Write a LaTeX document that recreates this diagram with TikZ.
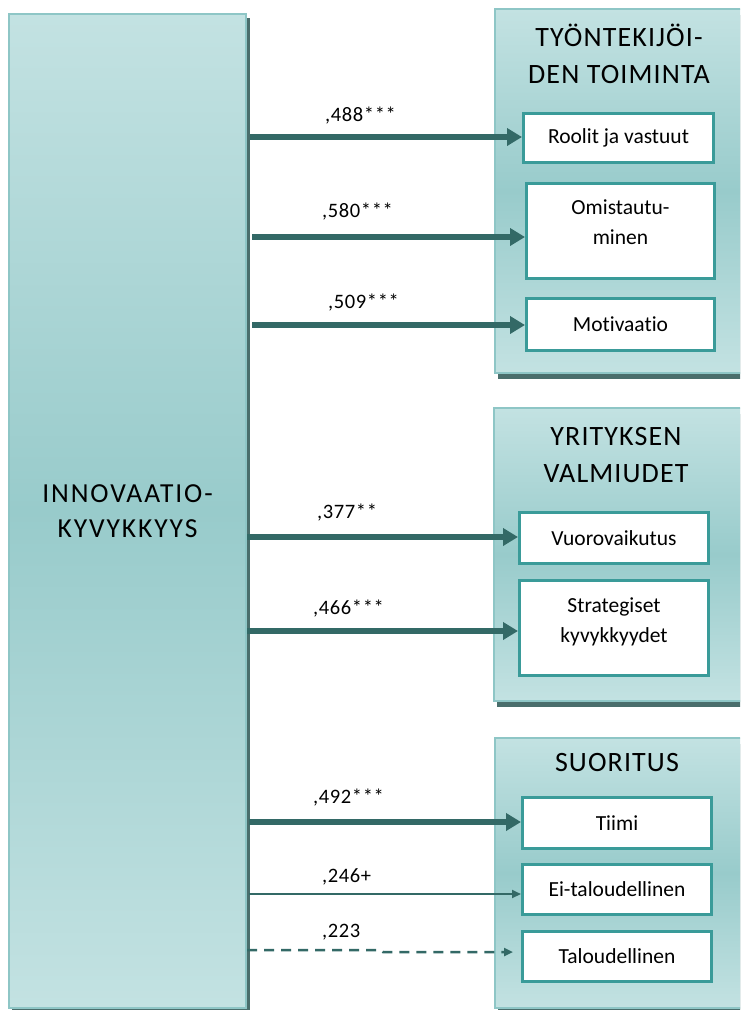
\documentclass[tikz,border=0pt]{standalone}
\usepackage{fontspec}
\setmainfont{Carlito}[Ligatures=NoCommon]
\newfontfamily\spacedfont{Carlito}[LetterSpace=4,Ligatures=NoCommon]
\newfontfamily\widefont{Carlito}[LetterSpace=7,Ligatures=NoCommon]
\newfontfamily\coeffont{Carlito}[LetterSpace=3,Ligatures=NoCommon]
\usetikzlibrary{arrows.meta,shadows}

\definecolor{gradlight}{HTML}{C3E2E2}
\definecolor{graddark}{HTML}{98CBCB}
\definecolor{paneledge}{HTML}{8EC6C6}
\definecolor{shadowc}{HTML}{4A6E6C}
\definecolor{itemedge}{HTML}{3A9B99}
\definecolor{arrc}{HTML}{336966}

\tikzset{
  panel/.style={draw=paneledge, line width=2pt,
    top color=gradlight, bottom color=gradlight, middle color=graddark,
    anchor=north west, inner sep=0pt,
    drop shadow={shadow xshift=3pt, shadow yshift=-6pt, fill=shadowc, opacity=1}},
  paneltitle/.style={align=center, inner sep=0pt,
    font=\spacedfont\fontsize{28}{37}\selectfont},
  item/.style={draw=itemedge, line width=3pt, fill=white, anchor=north west,
    inner sep=0pt, align=center, font=\fontsize{21.5}{30}\selectfont},
  itemlabel/.style={align=center, inner sep=0pt, font=\fontsize{21.5}{30}\selectfont},
  coef/.style={anchor=base west, inner sep=0pt, font=\coeffont\fontsize{20.5}{24}\selectfont},
  thickarr/.style={draw=arrc, line width=6pt, -{Triangle[length=15pt,width=17pt]}},
  thinarr/.style={draw=arrc, line width=2pt, -{Triangle[length=9pt,width=8pt]}},
  dasharr/.style={draw=arrc, line width=2.5pt, dash pattern=on 10pt off 7pt,
    -{Triangle[length=9pt,width=8pt]}}
}

\begin{document}
\begin{tikzpicture}[x=1pt,y=-1pt]
\useasboundingbox (0,0) rectangle (740,1010);
\clip (0,0) rectangle (740,1010);

% central construct
\node[panel, minimum width=237pt, minimum height=994pt,
  drop shadow={shadow xshift=4pt, shadow yshift=-4pt, fill=shadowc, opacity=1},
  align=center, font=\widefont\fontsize{27.5}{35}\selectfont] (inn) at (8,13)
  {INNOVAATIO-\\KYVYKKYYS};

% outcome groups
\node[panel, minimum width=262pt, minimum height=364pt] (g1) at (494,8) {};
\node[panel, minimum width=262pt, minimum height=293pt] (g2) at (493,407) {};
\node[panel, minimum width=262pt, minimum height=270pt] (g3) at (494,737) {};

\node[paneltitle] (t1) at (619,54) {TYÖNTEKIJÖI-\\DEN TOIMINTA};
\node[paneltitle] (t2) at (616,455) {YRITYKSEN\\VALMIUDET};
\node[paneltitle] (t3) at (617,763) {SUORITUS};

% items
\node[item, minimum width=190pt, minimum height=49pt] (rool) at (522,112) {Roolit ja vastuut};
\node[item, minimum width=188pt, minimum height=95pt,
  label={[itemlabel, yshift=9pt]center:Omistautu-\\minen}] (omi) at (525,182) {};
\node[item, minimum width=188pt, minimum height=52pt] (mot) at (525,297) {Motivaatio};

\node[item, minimum width=189pt, minimum height=51pt] (vuo) at (518,511) {Vuorovaikutus};
\node[item, minimum width=189pt, minimum height=95pt,
  label={[itemlabel, yshift=6pt]center:Strategiset\\kyvykkyydet}] (str) at (518,579) {};

\node[item, minimum width=189pt, minimum height=51pt] (tii) at (521,796) {Tiimi};
\node[item, minimum width=189pt, minimum height=50pt] (eit) at (521,863) {Ei-taloudellinen};
\node[item, minimum width=189pt, minimum height=50pt] (tal) at (521,930) {Taloudellinen};

% paths with coefficients
\draw[thickarr] ([xshift=3pt]inn.east |- 0,137) -- (rool.west |- 0,137);
\draw[thickarr] ([xshift=5pt]inn.east |- 0,237) -- (omi.west |- 0,237);
\draw[thickarr] ([xshift=5pt]inn.east |- 0,325) -- (mot.west |- 0,325);
\draw[thickarr] (inn.east |- 0,537) -- (vuo.west |- 0,537);
\draw[thickarr] (inn.east |- 0,631) -- (str.west |- 0,631);
\draw[thickarr] ([xshift=2pt]inn.east |- 0,822) -- (tii.west |- 0,822);
\draw[thinarr] ([xshift=2pt]inn.east |- 0,894) -- (eit.west |- 0,894);
\draw[dasharr] (inn.east |- 0,950) -- (380,950) -- (383,952) -- ([xshift=-8pt]tal.west |- 0,952);

\node[coef] (c1) at (325,121) {,488***};
\node[coef] (c2) at (322,217) {,580***};
\node[coef] (c3) at (328,308) {,509***};
\node[coef] (c4) at (317,518) {,377**};
\node[coef] (c5) at (313,614) {,466***};
\node[coef] (c6) at (313,803) {,492***};
\node[coef] (c7) at (322,882) {,246+};
\node[coef] (c8) at (322,937) {,223};
\end{tikzpicture}
\end{document}
